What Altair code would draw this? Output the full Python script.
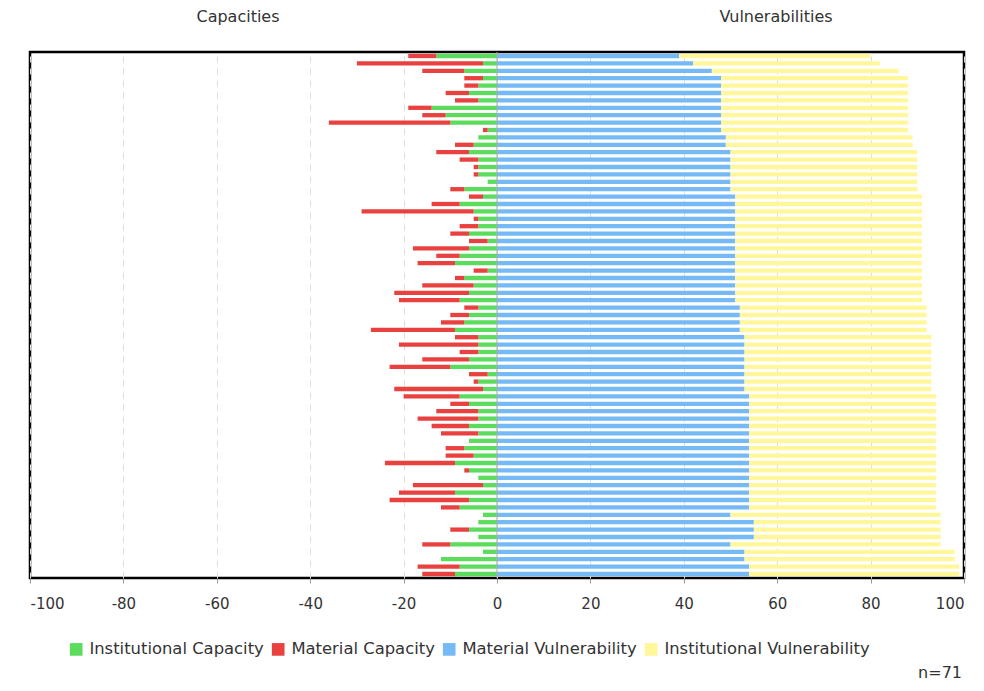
import altair as alt
import pandas as pd

series_names = ["Institutional Capacity", "Material Capacity",
                "Material Vulnerability", "Institutional Vulnerability"]
series_colors = ["#5CDC5C", "#E8413F", "#76B9F7", "#FFF799"]

inst_cap = [13, 3, 7, 3, 4, 6, 4, 14, 11, 10, 2, 4, 5, 6, 4, 4, 4, 2, 7, 3,
            8, 5, 4, 4, 6, 2, 6, 8, 9, 2, 7, 5, 6, 8, 4, 6, 7, 9, 4, 4,
            4, 6, 10, 2, 4, 3, 8, 6, 4, 4, 6, 4, 6, 7, 5, 9, 6, 4, 3, 9,
            6, 8, 3, 4, 6, 4, 10, 3, 12, 8, 9]
mat_cap = [6, 27, 9, 4, 3, 5, 5, 5, 5, 26, 1, 0, 4, 7, 4, 1, 1, 0, 3, 3,
           6, 24, 1, 4, 4, 4, 12, 5, 8, 3, 2, 11, 16, 13, 3, 4, 5, 18, 5, 17,
           4, 10, 13, 4, 1, 19, 12, 4, 9, 13, 8, 8, 0, 4, 6, 15, 1, 0, 15, 12,
           17, 4, 0, 0, 4, 0, 6, 0, 0, 9, 7]
mat_vul = [39, 42, 46, 48, 48, 48, 48, 48, 48, 48, 48, 49, 49, 50, 50, 50, 50, 50, 50, 51,
           51, 51, 51, 51, 51, 51, 51, 51, 51, 51, 51, 51, 51, 51, 52, 52, 52, 52, 53, 53,
           53, 53, 53, 53, 53, 53, 54, 54, 54, 54, 54, 54, 54, 54, 54, 54, 54, 54, 54, 54,
           54, 54, 50, 55, 55, 55, 50, 53, 53, 54, 54]
total_vul = [80, 82, 86, 88, 88, 88, 88, 88, 88, 88, 88, 89, 89, 90, 90, 90, 90, 90, 90, 91,
             91, 91, 91, 91, 91, 91, 91, 91, 91, 91, 91, 91, 91, 91, 92, 92, 92, 92, 93, 93,
             93, 93, 93, 93, 93, 93, 94, 94, 94, 94, 94, 94, 94, 94, 94, 94, 94, 94, 94, 94,
             94, 94, 95, 95, 95, 95, 95, 98, 98, 99, 99]
x_ticks = [-100, -80, -60, -40, -20, 0, 20, 40, 60, 80, 100]

recs = []
for i in range(len(inst_cap)):
    ic, mc, mv, tv = inst_cap[i], mat_cap[i], mat_vul[i], total_vul[i]
    recs.append({"row": i, "series": series_names[0], "start": 0, "end": -ic})
    if mc > 0:
        recs.append({"row": i, "series": series_names[1], "start": -ic, "end": -(ic + mc)})
    recs.append({"row": i, "series": series_names[2], "start": 0, "end": mv})
    recs.append({"row": i, "series": series_names[3], "start": mv, "end": tv})
df = pd.DataFrame(recs)

FONT = "DejaVu Sans"

bars = alt.Chart(df).mark_bar().encode(
    x=alt.X("start:Q",
            scale=alt.Scale(domain=[-100, 100], nice=False, zero=False),
            axis=alt.Axis(values=x_ticks, title=None, labelExpr="'' + datum.value",
                          grid=True, gridDash=[6, 6], gridColor="#dddddd",
                          tickSize=5, tickColor="#999999", domain=False,
                          labelFontSize=15, labelFont=FONT, labelColor="#333333",
                          labelPadding=13)),
    x2="end:Q",
    y=alt.Y("row:O", axis=None,
            scale=alt.Scale(paddingInner=0.42, paddingOuter=0.25)),
    color=alt.Color("series:N",
                    scale=alt.Scale(domain=series_names, range=series_colors),
                    legend=alt.Legend(title=None, orient="none", legendX=38, legendY=589,
                                      direction="horizontal", symbolType="square",
                                      symbolSize=160, symbolStrokeWidth=0,
                                      labelFontSize=16.4, labelFont=FONT,
                                      labelColor="#333333", columnPadding=6,
                                      labelOffset=5, labelLimit=400)),
)

zero_rule = alt.Chart(pd.DataFrame({"z": [0]})).mark_rule(
    color="#aaaaaa", strokeWidth=1).encode(x="z:Q")

cap_title = alt.Chart(pd.DataFrame({"t": ["Capacities"]})).mark_text(
    fontSize=16, font=FONT, color="#333333", align="center", baseline="middle"
).encode(text="t:N", x=alt.value(208), y=alt.value(-35))

vul_title = alt.Chart(pd.DataFrame({"t": ["Vulnerabilities"]})).mark_text(
    fontSize=16, font=FONT, color="#333333", align="center", baseline="middle"
).encode(text="t:N", x=alt.value(746), y=alt.value(-35))

n_text = alt.Chart(pd.DataFrame({"t": ["n=71"]})).mark_text(
    fontSize=16, font=FONT, color="#333333", align="right", baseline="bottom"
).encode(text="t:N", x=alt.value(932), y=alt.value(629))

chart = alt.layer(bars, zero_rule, cap_title, vul_title, n_text).properties(
    width=934, height=526,
    padding={"left": 22, "top": 44, "right": 12, "bottom": 105},
    autosize=alt.AutoSizeParams(type="none"),
).configure_view(stroke="black", strokeWidth=2.5)

chart.save("out.html", embed_options={"renderer": "svg", "actions": False})
